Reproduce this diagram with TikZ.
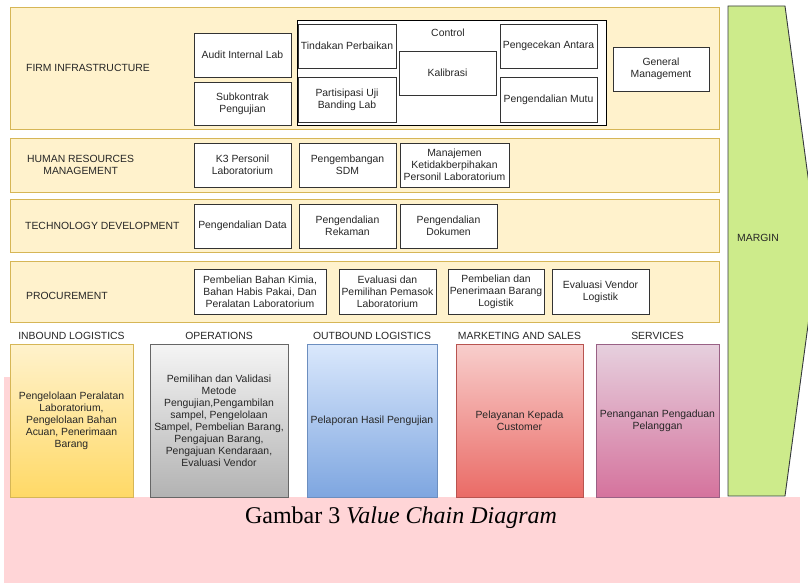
\documentclass[tikz,border=0pt]{standalone}
\usepackage{fontspec}
\setmainfont{Liberation Sans}
\newfontfamily\capfont{Liberation Serif}
\usetikzlibrary{positioning}

\definecolor{bandfill}{HTML}{FFF2CC}
\definecolor{bandline}{HTML}{D6B656}
\definecolor{pinkbg}{RGB}{255,213,215}
\definecolor{marginfill}{HTML}{CDEB8B}
\definecolor{marginline}{HTML}{36393D}

\begin{document}
\begin{tikzpicture}[x=1pt,y=-1pt,
    every node/.style={font=\fontsize{10.4}{12}\selectfont, text=black!85},
    band/.style={draw=bandline, fill=bandfill, line width=0.9pt, minimum width=709, inner sep=0},
    item/.style={draw=black!80, fill=white, line width=0.8pt, align=center, inner sep=0,
                 minimum width=97, minimum height=44},
    act/.style={line width=0.9pt, align=center, inner sep=0, minimum height=153},
    lbl/.style={inner sep=0, align=center}
  ]
  \clip (0,0) rectangle (808,583);
  \useasboundingbox (0,0) rectangle (808,583);

  % caption background
  \fill[pinkbg] (4,377) rectangle (800,583);
  \fill[white] (10,340) rectangle (800,497);

  % support activities
  \node[band, minimum height=122] (firm) at (364.5,68) {};
  \node[band, minimum height=54] (hrm) at (364.5,165) {};
  \node[band, minimum height=53] (tech) at (364.5,225.5) {};
  \node[band, minimum height=61] (proc) at (364.5,291.5) {};

  \node[lbl, anchor=west] (firmlbl) at (26,68) {FIRM INFRASTRUCTURE};
  \node[lbl, anchor=west] (hrmlbl) at (27,165) {HUMAN RESOURCES\\MANAGEMENT};
  \node[lbl, anchor=west] (techlbl) at (25,226) {TECHNOLOGY DEVELOPMENT};
  \node[lbl, anchor=west] (proclbl) at (26,296) {PROCUREMENT};

  % firm infrastructure
  \node[item] (audit) at (242.5,55) {Audit Internal Lab};
  \node[item, minimum height=43] (subkon) at (242.5,103.5) {Subkontrak\\Pengujian};
  \node[draw=black, fill=white, line width=1pt, inner sep=0, minimum width=309, minimum height=105] (ctrl) at (451.5,73.5) {};
  \node[lbl] (ctrltxt) at (448,33) {Control};
  \node[item, minimum width=98] (tindakan) at (347,46) {Tindakan Perbaikan};
  \node[item, minimum width=98, minimum height=45] (banding) at (347,99.5) {Partisipasi Uji\\Banding Lab};
  \node[item] (kalibrasi) at (447.5,73) {Kalibrasi};
  \node[item] (cekantara) at (548.5,46) {Pengecekan Antara};
  \node[item, minimum height=45] (mutu) at (548.5,99.5) {Pengendalian Mutu};
  \node[item, minimum width=96] (general) at (661,69) {General\\Management};

  % human resources
  \node[item] (k3) at (242.5,165) {K3 Personil\\Laboratorium};
  \node[item] (sdm) at (347.5,165) {Pengembangan\\SDM};
  \node[item, minimum width=109] (netral) at (454.5,165) {Manajemen\\Ketidakberpihakan\\Personil Laboratorium};

  % technology development
  \node[item] (data) at (242.5,226) {Pengendalian Data};
  \node[item] (rekaman) at (347.5,226) {Pengendalian\\Rekaman};
  \node[item] (dokumen) at (448.5,226) {Pengendalian\\Dokumen};

  % procurement
  \node[item, minimum width=132, minimum height=45] (kimia) at (260,291.5) {Pembelian Bahan Kimia,\\Bahan Habis Pakai, Dan\\Peralatan Laboratorium};
  \node[item, minimum height=45] (pemasok) at (387.5,291.5) {Evaluasi dan\\Pemilihan Pemasok\\Laboratorium};
  \node[item, minimum width=96, minimum height=45] (barang) at (496,291.5) {Pembelian dan\\Penerimaan Barang\\Logistik};
  \node[item, minimum height=45] (vendor) at (600.5,291.5) {Evaluasi Vendor\\Logistik};

  % primary activities
  \node[act, minimum width=123, draw=bandline, top color=bandfill, bottom color={rgb,255:red,255;green,217;blue,102}] (inbound) at (71.5,420.5)
    {Pengelolaan Peralatan\\Laboratorium,\\Pengelolaan Bahan\\Acuan, Penerimaan\\Barang};
  \node[act, minimum width=138, draw=black!60, top color=black!4, bottom color=black!30] (ops) at (219,420.5)
    {Pemilihan dan Validasi\\Metode\\Pengujian,Pengambilan\\sampel, Pengelolaan\\Sampel, Pembelian Barang,\\Pengajuan Barang,\\Pengajuan Kendaraan,\\Evaluasi Vendor};
  \node[act, minimum width=130, draw={rgb,255:red,108;green,142;blue,191}, top color={rgb,255:red,218;green,232;blue,252}, bottom color={rgb,255:red,126;green,166;blue,224}] (outbound) at (372,420.5)
    {Pelaporan Hasil Pengujian};
  \node[act, minimum width=127, draw={rgb,255:red,184;green,84;blue,80}, top color={rgb,255:red,248;green,206;blue,204}, bottom color={rgb,255:red,234;green,107;blue,102}] (sales) at (519.5,420.5)
    {Pelayanan Kepada\\Customer};
  \node[act, minimum width=123, draw={rgb,255:red,153;green,97;blue,133}, top color={rgb,255:red,230;green,208;blue,222}, bottom color={rgb,255:red,213;green,115;blue,157}] (service) at (657.5,420.5)
    {Penanganan Pengaduan\\Pelanggan};

  \node[lbl, above=4pt of inbound] (inboundlbl) {INBOUND LOGISTICS};
  \node[lbl, above=4pt of ops] (opslbl) {OPERATIONS};
  \node[lbl, above=4pt of outbound] (outboundlbl) {OUTBOUND LOGISTICS};
  \node[lbl, above=4pt of sales] (saleslbl) {MARKETING AND SALES};
  \node[lbl, above=4pt of service] (servicelbl) {SERVICES};

  % margin
  \draw[fill=marginfill, draw=marginline, line width=0.9pt] (728,6) -- (785,6) -- (818,251) -- (785,496) -- (728,496) -- cycle;
  \node[lbl, anchor=west] (marginlbl) at (737,238) {MARGIN};

  \node[anchor=base, inner sep=0, text=black] (cap) at (401,523)
    {\capfont\fontsize{24}{28}\selectfont Gambar 3 \textit{Value Chain Diagram}};
\end{tikzpicture}
\end{document}
